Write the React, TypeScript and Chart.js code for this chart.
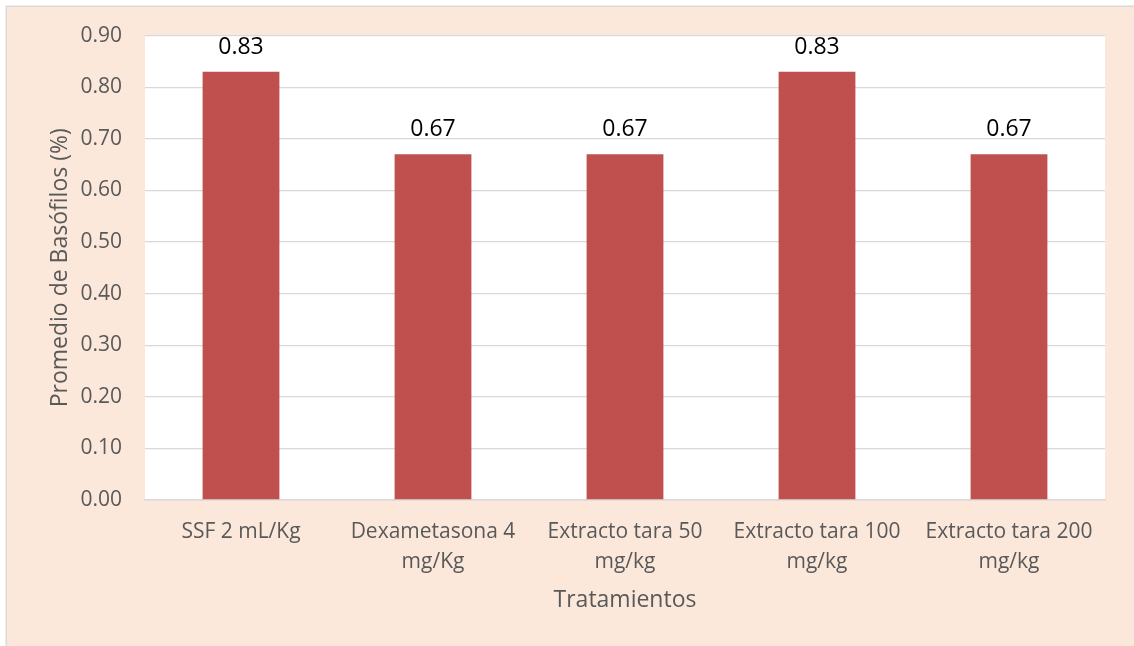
import React, { useEffect, useRef } from "react";
import { Chart, registerables } from "chart.js";

Chart.register(...registerables);

// Categories (tratamientos) and their mean basophil percentages
const categories: (string | string[])[] = [
  "SSF 2 mL/Kg",
  ["Dexametasona 4", "mg/Kg"],
  ["Extracto tara 50", "mg/kg"],
  ["Extracto tara 100", "mg/kg"],
  ["Extracto tara 200", "mg/kg"],
];
const basofilos: number[] = [0.83, 0.67, 0.67, 0.83, 0.67];
const yTicks: number[] = [0, 0.1, 0.2, 0.3, 0.4, 0.5, 0.6, 0.7, 0.8, 0.9];

const FONT = "'Open Sans', 'DejaVu Sans', sans-serif";
const PEACH = "#FBE8DA";
const BAR = "#C0504D";
const GRID = "#D9D9D9";
const TEXT = "#595959";

// Paints the peach frame, its thin border and the white plot area
const backgroundPlugin = {
  id: "frameBackground",
  beforeDraw(chart: Chart) {
    const { ctx, width, height, chartArea } = chart;
    ctx.save();
    ctx.fillStyle = "#ffffff";
    ctx.fillRect(0, 0, width, height);
    ctx.fillStyle = PEACH;
    ctx.fillRect(7, 7, width - 7, height - 7);
    ctx.strokeStyle = GRID;
    ctx.lineWidth = 1.5;
    ctx.strokeRect(6.25, 6.25, width + 10, height + 10);
    ctx.fillStyle = "#ffffff";
    ctx.fillRect(
      chartArea.left,
      chartArea.top,
      chartArea.right - chartArea.left,
      chartArea.bottom - chartArea.top
    );
    ctx.restore();
  },
};

// Writes each bar's value above it
const valueLabelPlugin = {
  id: "valueLabels",
  afterDatasetsDraw(chart: Chart) {
    const { ctx } = chart;
    const meta = chart.getDatasetMeta(0);
    const data = chart.data.datasets[0].data as number[];
    ctx.save();
    ctx.font = `23px ${FONT}`;
    ctx.fillStyle = "#000000";
    ctx.textAlign = "center";
    ctx.textBaseline = "alphabetic";
    meta.data.forEach((bar: any, i: number) => {
      ctx.fillText(data[i].toFixed(2), bar.x, bar.y - 18);
    });
    ctx.restore();
  },
};

export default function App() {
  const canvasRef = useRef<HTMLCanvasElement | null>(null);

  useEffect(() => {
    if (!canvasRef.current) return;
    const chart = new Chart(canvasRef.current, {
      type: "bar",
      data: {
        labels: categories,
        datasets: [
          {
            data: basofilos,
            backgroundColor: BAR,
            borderWidth: 0,
            categoryPercentage: 1,
            barPercentage: 0.4,
          },
        ],
      },
      options: {
        responsive: false,
        animation: false,
        devicePixelRatio: 1,
        layout: { padding: { left: 0, top: 35.5, right: 29, bottom: 0 } },
        plugins: {
          legend: { display: false },
          tooltip: { enabled: false },
        },
        scales: {
          x: {
            grid: { display: false, drawTicks: false },
            border: { display: true, color: GRID, width: 1.5 },
            ticks: {
              color: TEXT,
              font: { family: FONT, size: 21, lineHeight: 1.43 },
              padding: 17,
              maxRotation: 0,
              minRotation: 0,
              autoSkip: false,
            },
            title: {
              display: true,
              text: "Tratamientos",
              color: TEXT,
              font: { family: FONT, size: 23, lineHeight: 1.2 },
              padding: { top: 0, bottom: 32 },
            },
            afterFit(scale: any) {
              scale.height = 146;
            },
          },
          y: {
            min: 0,
            max: 0.9,
            afterBuildTicks(scale: any) {
              scale.ticks = yTicks.map((v) => ({ value: v }));
            },
            grid: { color: GRID, lineWidth: 1.3, drawTicks: false },
            border: { display: false },
            ticks: {
              color: TEXT,
              font: { family: FONT, size: 21 },
              padding: 23,
              callback: (v: any) => Number(v).toFixed(2),
            },
            title: {
              display: true,
              text: "Promedio de Basófilos (%)",
              color: TEXT,
              font: { family: FONT, size: 23, lineHeight: 1.2 },
              padding: { top: 47, bottom: 0 },
            },
            afterFit(scale: any) {
              scale.width = 145;
            },
          },
        },
      },
      plugins: [backgroundPlugin, valueLabelPlugin],
    });
    return () => chart.destroy();
  }, []);

  return (
    <div style={{ position: "fixed", left: 0, top: 0, width: 1134, height: 646 }}>
      <canvas ref={canvasRef} width={1134} height={646} />
    </div>
  );
}
